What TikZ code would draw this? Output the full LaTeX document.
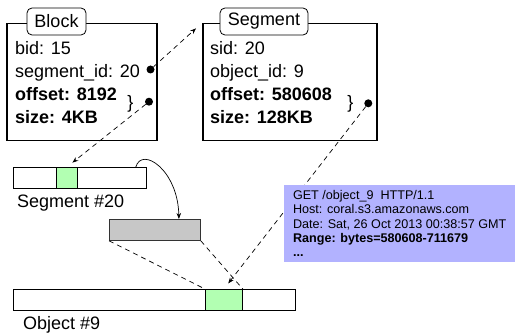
\documentclass[tikz,border=0pt]{standalone}
\usepackage{fontspec}
\setmainfont{Liberation Sans}
\usetikzlibrary{arrows.meta}

\begin{document}
\begin{tikzpicture}[x=1pt,y=-1pt,
		record/.style={draw,line width=1.5pt,anchor=north west,inner sep=0pt},
		title/.style={draw,fill=white,rounded corners=5pt,line width=0.8pt,minimum height=27pt,inner sep=0pt,font=\fontsize{18}{18}\selectfont},
		field/.style={anchor=base west,inner sep=0pt,font=\fontsize{18}{18}\selectfont},
		brace/.style={inner sep=0pt,font=\fontsize{18}{18}\selectfont},
		dot/.style={circle,fill,inner sep=0pt,minimum size=8pt},
		bar/.style={draw,line width=0.8pt,anchor=north west,inner sep=0pt,minimum height=21pt},
		chunk/.style={bar,fill=green!30},
		link/.style={line width=0.7pt,dash pattern=on 5pt off 4pt},
		tip/.style={-{Stealth[length=6pt,width=4.5pt]}}]
	\useasboundingbox (0,0) rectangle (517,334);

	% block record
	\node[record,minimum width=150pt,minimum height=117pt] (block) at (6,23) {};
	\node[title,minimum width=59pt] (blocktitle) at (56.5,21.5) {Block};
	\node[field] (bid) at (15,54.5) {bid: 15};
	\node[field] (bsid) at (15,77.5) {segment\_id: 20};
	\node[field] (boff) at (15,100.5) {\bfseries offset: 8192};
	\node[field] (bsize) at (15,123.5) {\bfseries size: 4KB};
	\node[brace] (bbrace) at (130.5,104) {\}};
	\node[dot] (sidtip) at (150.5,69.5) {};
	\node[dot] (rangetip) at (149,101.7) {};

	% segment record
	\node[record,minimum width=174pt,minimum height=117pt] (segment) at (202,23) {};
	\node[title,minimum width=88pt] (segtitle) at (264,21.5) {Segment};
	\node[field] (sid) at (210,54.5) {sid: 20};
	\node[field] (soid) at (210,77.5) {object\_id: 9};
	\node[field] (soff) at (210,100.5) {\bfseries offset: 580608};
	\node[field] (ssize) at (210,123.5) {\bfseries size: 128KB};
	\node[brace] (sbrace) at (350.5,103.5) {\}};
	\node[dot] (objtip) at (368.3,103.3) {};

	% segment #20 and its block
	\node[bar,minimum width=133pt] (seg20) at (13,167) {};
	\node[chunk,minimum width=21pt] (segchunk) at (56,167) {};
	\node[anchor=west,inner sep=0pt,font=\fontsize{18}{18}\selectfont] (seglabel) at (17,203) {Segment \#20};
	\node[bar,fill=black!22,draw=black!80,minimum width=91pt] (piece) at (109,219) {};

	% object #9
	\node[bar,minimum width=282pt] (obj9) at (13,289) {};
	\node[chunk,minimum width=37pt] (objchunk) at (205,289) {};
	\node[anchor=west,inner sep=0pt,font=\fontsize{18}{18}\selectfont] (objlabel) at (23,325) {Object \#9};

	% connectors
	\draw[link,tip,shorten >=8pt] (sidtip) -- (segment.north west);
	\draw[link,tip,shorten >=7pt] (rangetip) -- (segchunk.north);
	\draw[link,tip,shorten >=7pt] (objtip) -- (objchunk.north);
	\draw[line width=0.7pt,tip] ([xshift=-11pt]seg20.north east) .. controls (142,146) and (178,170) .. ([xshift=24pt]piece.north);
	\draw[link] (piece.south west) -- (objchunk.north west);
	\draw[link] (piece.south east) -- (objchunk.north east);

	% request
	\node[fill=blue!30,anchor=north west,minimum width=231pt,minimum height=77pt,inner sep=0pt,align=left,font=\fontsize{12.6}{14.3}\selectfont] (request) at (284,185) {GET /object\_9 \ HTTP/1.1\\Host: coral.s3.amazonaws.com\\Date: Sat, 26 Oct 2013 00:38:57 GMT\\\textbf{Range: bytes=580608-711679}\\\textbf{...}};
\end{tikzpicture}
\end{document}
